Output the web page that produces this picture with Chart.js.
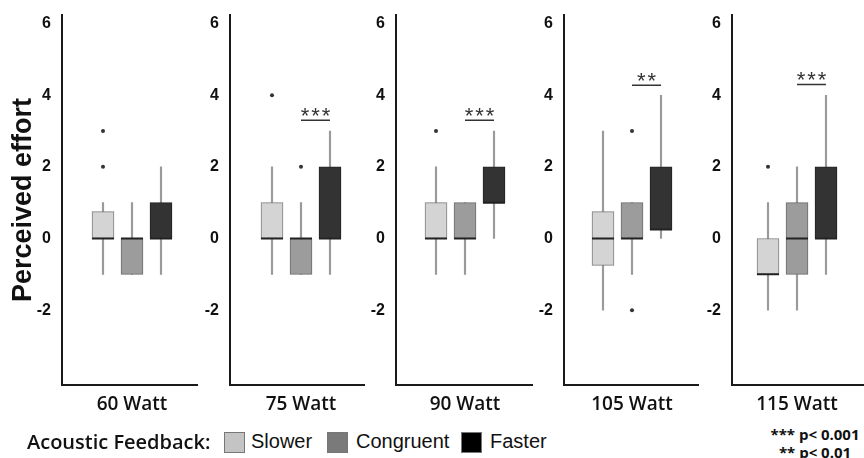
<!DOCTYPE html>
<html>
<head>
<meta charset="utf-8">
<script src="https://cdn.jsdelivr.net/npm/chart.js@4.4.0/dist/chart.umd.min.js"></script>
<style>
  body { margin: 0; width: 864px; height: 458px; overflow: hidden; position: relative; background: #fff; }
  canvas.panel { position: absolute; }
  .watt { position: absolute; top: 390px; width: 120px; text-align: center; font: 600 19px 'Open Sans', sans-serif; color: #111; white-space: nowrap; }
  .lg { position: absolute; top: 428px; white-space: nowrap; color: #111; }
  .lgtitle { font: 600 20px 'Open Sans', sans-serif; }
  .lglabel { font: 20px 'Liberation Sans', Arial, sans-serif; }
  .sw { position: absolute; top: 432px; width: 19px; height: 19px; border: 1px solid #777; }
  .pv { position: absolute; left: 755px; width: 120px; text-align: center; font: 700 15px 'Open Sans', sans-serif; color: #111; white-space: nowrap; }
</style>
</head>
<body>
<script>
// categories
const panels = ['60 Watt', '75 Watt', '90 Watt', '105 Watt', '115 Watt'];
const groups = ['Slower', 'Congruent', 'Faster'];

// box stats per panel: [min, q1, median, q3, max]
const slower    = [[-1, 0, 0, 0.75, 1], [-1, 0, 0, 1, 2], [-1, 0, 0, 1, 2], [-2, -0.75, 0, 0.75, 3], [-2, -1, -1, 0, 1]];
const congruent = [[-1, -1, 0, 0, 1], [-1, -1, 0, 0, 1], [-1, 0, 0, 1, 1], [-1, 0, 0, 1, 1], [-2, -1, 0, 1, 2]];
const faster    = [[-1, 0, 0, 1, 2], [-1, 0, 0, 2, 3], [0, 1, 1, 2, 3], [0, 0.25, 0.25, 2, 4], [-1, 0, 0, 2, 4]];

// outliers per panel
const outSlower    = [[2, 3], [4], [3], [], [2]];
const outCongruent = [[], [2], [], [3, -2], []];
const outFaster    = [[], [], [], [], []];

// significance (Congruent vs Faster)
const sigLabels  = ['', '***', '***', '**', '***'];
const sigHeights = [null, 3.3, 3.3, 4.28, 4.3];

const yTicks = [-2, 0, 2, 4, 6];

// layout (page pixels)
const axisX = [62, 230, 396, 564, 732];
const axisEnd = [197, 364, 532, 698, 864];
const areaTop = 15, areaBottom = 386;
const boxOffset = [41, 42, 40, 39, 36];
const groupPx = 29;
const fills = ['#d4d4d4', '#9c9c9c', '#333333'];
const borders = ['#7c7c7c', '#6a6a6a', '#222222'];
const swatches = ['#c4c4c4', '#7a7a7a', '#000000'];

function makeConfig(p) {
  const scaleW = p === 0 ? 62 : 30;
  const stats = [slower[p], congruent[p], faster[p]];
  const outliers = [];
  [outSlower[p], outCongruent[p], outFaster[p]].forEach((arr, i) => {
    arr.forEach(v => outliers.push({x: i + 1, y: v}));
  });
  const xMin = 1 - boxOffset[p] / groupPx;
  const xMax = xMin + (axisEnd[p] - axisX[p]) / groupPx;
  const sigH = sigHeights[p];

  return {
    type: 'bar',
    data: {
      datasets: [
        {
          label: 'whisker',
          data: stats.map((s, i) => ({x: i + 1, y: [s[0], s[4]]})),
          backgroundColor: '#9a9a9a',
          grouped: false,
          barPercentage: 1,
          categoryPercentage: 1,
          maxBarThickness: 1.5,
          order: 4
        },
        {
          label: 'box',
          data: stats.map((s, i) => ({x: i + 1, y: [s[1], s[3]]})),
          backgroundColor: fills,
          borderColor: borders,
          borderWidth: 1,
          borderSkipped: false,
          grouped: false,
          barPercentage: 1,
          categoryPercentage: 1,
          maxBarThickness: 22,
          order: 3
        },
        {
          type: 'scatter',
          label: 'median',
          data: stats.map((s, i) => ({x: i + 1, y: s[2]})),
          pointStyle: 'line',
          pointRadius: 11,
          borderColor: '#222',
          borderWidth: 2,
          order: 2
        },
        {
          type: 'scatter',
          label: 'outlier',
          data: outliers,
          pointRadius: 2,
          backgroundColor: '#333',
          borderWidth: 0,
          order: 1
        },
        {
          type: 'line',
          label: 'sig',
          data: sigH == null ? [] : [{x: 2, y: sigH}, {x: 3, y: sigH}],
          borderColor: '#333',
          borderWidth: 1.5,
          pointRadius: 0,
          order: 0
        }
      ]
    },
    options: {
      responsive: false,
      animation: false,
      layout: {padding: 0},
      plugins: {legend: {display: false}, tooltip: {enabled: false}},
      scales: {
        x: {
          type: 'linear',
          min: xMin,
          max: xMax,
          offset: false,
          grid: {display: false, drawTicks: false},
          border: {display: true, color: '#1a1a1a', width: 2},
          ticks: {display: false},
          afterBuildTicks: s => { s.ticks = [{value: xMin}, {value: xMax}]; },
          afterFit: s => { s.height = 0; }
        },
        y: {
          type: 'linear',
          min: -4.1,
          max: 6.25,
          grid: {display: false, drawTicks: false},
          border: {display: true, color: '#1a1a1a', width: 2},
          ticks: {
            color: '#111',
            padding: 11,
            font: {family: 'Liberation Sans', size: 16, weight: 'bold'}
          },
          afterBuildTicks: s => { s.ticks = yTicks.map(v => ({value: v})); },
          afterFit: s => { s.width = scaleW; },
          title: {
            display: p === 0,
            text: 'Perceived effort',
            color: '#111',
            font: {family: 'Liberation Sans', size: 27, weight: 'bold'},
            padding: {top: 7, bottom: 0}
          }
        }
      }
    },
    plugins: [{
      id: 'sigStars',
      afterDatasetsDraw(chart) {
        if (sigH == null) return;
        const {ctx, scales: {x, y}} = chart;
        ctx.save();
        ctx.font = '22px "Liberation Sans"';
        ctx.letterSpacing = '2px';
        ctx.fillStyle = '#333';
        ctx.textAlign = 'center';
        ctx.textBaseline = 'alphabetic';
        ctx.fillText(sigLabels[p], x.getPixelForValue(2.5) + 1, y.getPixelForValue(sigH) + 3);
        ctx.restore();
      }
    }]
  };
}

panels.forEach((name, p) => {
  const canvas = document.createElement('canvas');
  canvas.className = 'panel';
  document.body.appendChild(canvas);

  // first pass measures the margins Chart.js keeps around the plot area,
  // second pass sizes the canvas so the plot area lands where it should
  canvas.width = 300;
  canvas.height = 500;
  let chart = new Chart(canvas, makeConfig(p));
  const ca = chart.chartArea;
  const mL = ca.left, mT = ca.top, mR = 300 - ca.right, mB = 500 - ca.bottom;
  chart.destroy();

  canvas.width = mL + (axisEnd[p] - axisX[p]) + mR;
  canvas.height = mT + (areaBottom - areaTop) + mB;
  canvas.style.width = canvas.width + 'px';
  canvas.style.height = canvas.height + 'px';
  canvas.style.left = (axisX[p] - mL) + 'px';
  canvas.style.top = (areaTop - mT) + 'px';
  chart = new Chart(canvas, makeConfig(p));

  const lbl = document.createElement('div');
  lbl.className = 'watt';
  lbl.textContent = name;
  lbl.style.left = (axisX[p] + boxOffset[p] + groupPx - 60) + 'px';
  document.body.appendChild(lbl);
});

// legend
const lgTitle = document.createElement('div');
lgTitle.className = 'lg lgtitle';
lgTitle.style.left = '27px';
lgTitle.textContent = 'Acoustic Feedback:';
document.body.appendChild(lgTitle);

const swLeft = [224, 327, 461];
const lbLeft = [251, 356, 490];
groups.forEach((g, i) => {
  const sw = document.createElement('div');
  sw.className = 'sw';
  sw.style.left = swLeft[i] + 'px';
  sw.style.background = swatches[i];
  document.body.appendChild(sw);
  const t = document.createElement('div');
  t.className = 'lg lglabel';
  t.style.left = lbLeft[i] + 'px';
  t.style.top = '430px';
  t.textContent = g;
  document.body.appendChild(t);
});

// p-value notes
['*** p< 0.001', '** p< 0.01'].forEach((s, i) => {
  const d = document.createElement('div');
  d.className = 'pv';
  d.style.top = (424 + i * 18) + 'px';
  d.textContent = s;
  document.body.appendChild(d);
});
</script>
</body>
</html>
